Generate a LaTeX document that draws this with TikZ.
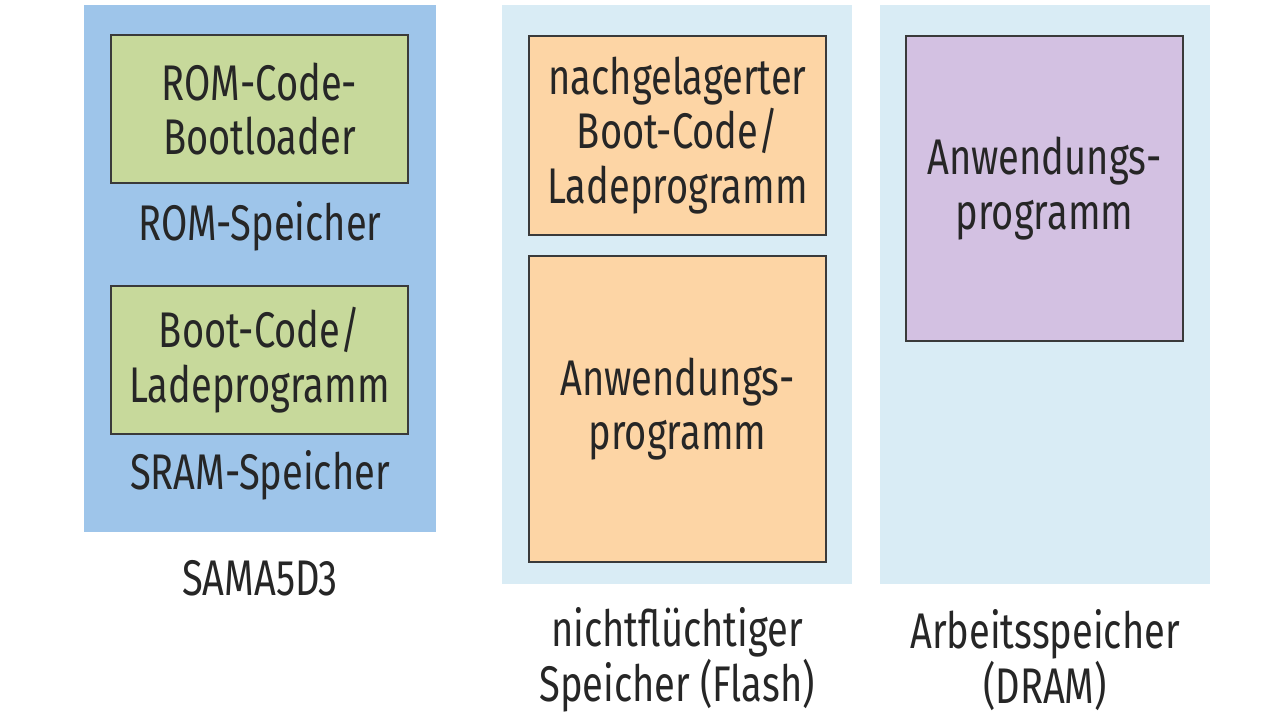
\documentclass[tikz,border=0pt]{standalone}
\usepackage{fontspec}
\setmainfont{Fira Sans}[FakeStretch=0.76]
\usepackage{tikz}
\definecolor{romblue}{HTML}{9EC5EA}
\definecolor{paleblue}{HTML}{D9ECF5}
\definecolor{codegreen}{HTML}{C7D99B}
\definecolor{bootorange}{HTML}{FDD5A5}
\definecolor{apppurple}{HTML}{D3C1E2}
\definecolor{edgegray}{HTML}{3A3A3A}
\tikzset{
  panel/.style={inner sep=0pt, outer sep=0pt},
  membox/.style={draw=edgegray, line width=0.9pt, align=center, inner sep=0pt,
    minimum width=5.94cm, font=\fontsize{28.5}{31.2}\selectfont, text=black!85},
  caption/.style={align=center, inner sep=0pt, font=\fontsize{28.5}{31.2}\selectfont, text=black!85}
}
\begin{document}
\begin{tikzpicture}
\useasboundingbox (0,0) rectangle (25.6,14.38);
%%Panels
\node[panel, fill=romblue, minimum width=7.04cm, minimum height=10.54cm] (sama) at (5.20,9.01) {};
\node[panel, fill=paleblue, minimum width=7.0cm, minimum height=11.58cm] (flash) at (13.54,8.49) {};
\node[panel, fill=paleblue, minimum width=6.6cm, minimum height=11.58cm] (dram) at (20.90,8.49) {};
%%Boxes
\node[membox, fill=codegreen, minimum height=2.96cm] (romcode) at (5.19,12.20) {ROM-Code-\\Bootloader};
\node[membox, fill=codegreen, minimum height=2.96cm] (sramcode) at (5.19,7.18) {Boot-Code/\\Ladeprogramm};
\node[membox, fill=bootorange, minimum height=3.98cm] (nachboot) at (13.55,11.67) {nachgelagerter\\Boot-Code/\\Ladeprogramm};
\node[membox, fill=bootorange, minimum height=6.12cm] (flashapp) at (13.55,6.20) {Anwendungs-\\programm};
\node[membox, fill=apppurple, minimum width=5.54cm, minimum height=6.10cm] (dramapp) at (20.89,10.61) {Anwendungs-\\programm};
%%Label
\node[caption] (romlabel) at (5.20,9.86) {ROM-Speicher};
\node[caption] (sramlabel) at (5.20,4.88) {SRAM-Speicher};
\node[caption] (samalabel) at (5.20,2.82) {SAMA5D3};
\node[caption] (flashlabel) at (13.54,1.18) {nichtflüchtiger\\Speicher (Flash)};
\node[caption] (dramlabel) at (20.90,1.18) {Arbeitsspeicher\\(DRAM)};
\end{tikzpicture}
\end{document}
